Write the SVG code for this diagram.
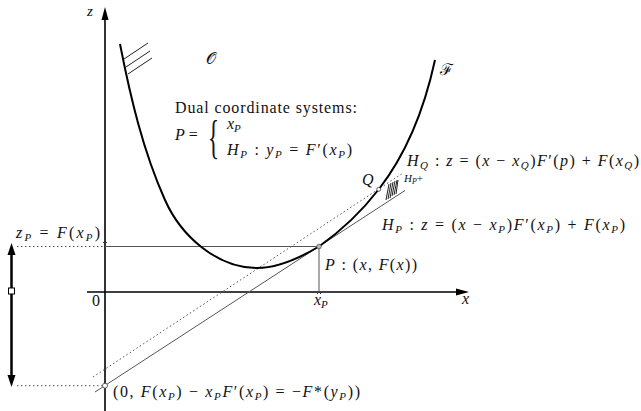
<svg xmlns="http://www.w3.org/2000/svg" width="641" height="411" viewBox="0 0 641 411">
<style>
.t{font-family:'Liberation Serif','Times New Roman',Times,'DejaVu Serif',serif;font-size:16px;fill:#111}
.i{font-style:italic}
.s{font-size:11px;font-style:italic}
.axis{stroke:#000;stroke-width:1.6;fill:none}
.curve{stroke:#000;stroke-width:2;fill:none}
.thin{stroke:#555;stroke-width:1;fill:none}
.dot{stroke:#555;stroke-width:1;fill:none;stroke-dasharray:1.5 2.5}
.hatch{stroke:#222;stroke-width:1;fill:none}
</style>
<rect width="641" height="411" fill="#fff"/>

<g id="axes">
  <line class="axis" x1="105" y1="411" x2="105" y2="18"/>
  <polygon points="105,7 101.5,20 108.5,20" fill="#000"/>
  <line class="axis" x1="87" y1="292" x2="457" y2="292"/>
  <polygon points="469,292 456,288.5 456,295.5" fill="#000"/>
  <text class="t i" x="87" y="16" style="font-size:15px">z</text>
  <text class="t i" x="462" y="304">x</text>
  <text class="t" x="92" y="306">0</text>
</g>

<g id="connectors">
  <line class="thin" x1="105" y1="246.5" x2="319" y2="246.5"/>
  <line class="thin" x1="319" y1="246.5" x2="319" y2="292"/>
  <line class="thin" x1="95" y1="392" x2="405" y2="190.5"/>
  <line class="dot" x1="93" y1="377" x2="403" y2="173"/>
  <line class="dot" x1="17" y1="246.5" x2="105" y2="246.5"/>
  <line class="dot" x1="17" y1="385.7" x2="105" y2="385.7"/>
  <path class="hatch" d="M124,59 L148,43 M126,67 L150,51 M128,74 L152,58"/>
  <path class="hatch" stroke-width="0.8" d="M386,200 L389,184 M388,199 L391,183 M390,198 L393,182 M392,196 L395,181 M394,195 L397,180 M396,194 L398,180"/>
  <path d="M105,244 l-2,-2 M105,244 l2,-2 M319,292 l-2,2 M319,292 l2,2" stroke="#333" stroke-width="1"/>
</g>

<g id="curve-F">
  <path class="curve" d="M120,44 C130.4,97 143,151 165,200 C181,236 217,268 257,268 C277,268 298,259 319,246.5 C341.4,230.7 362,211 379,189 C407.7,152 425,106 435,60"/>
  <text class="t" x="440" y="75">ℱ</text>
  <text class="t" x="206" y="64">𝒪</text>
</g>

<g id="points">
  <circle cx="319" cy="246.5" r="2.3" fill="#bbb" stroke="#555" stroke-width="0.8"/>
  <circle cx="378.7" cy="189.3" r="2" fill="#fff" stroke="#333" stroke-width="0.8"/>
  <circle cx="105" cy="385.7" r="2.5" fill="#fff" stroke="#333" stroke-width="0.8"/>
</g>

<g id="double-arrow">
  <line x1="11.5" y1="252" x2="11.5" y2="378" stroke="#000" stroke-width="2.5"/>
  <polygon points="11.5,243 7.5,255 15.5,255" fill="#000"/>
  <polygon points="11.5,387 7.5,375 15.5,375" fill="#000"/>
  <rect x="8.5" y="288" width="6" height="6" fill="#fff" stroke="#000" stroke-width="1"/>
</g>

<g id="dual-text">
  <text class="t" x="175" y="113" textLength="182">Dual coordinate systems:</text>
  <text class="t" x="175" y="140"><tspan class="i">P</tspan> =</text>
  <text class="t" transform="translate(208,153) scale(0.5,1)" style="font-size:46px">{</text>
  <text class="t" x="227" y="129"><tspan class="i">x</tspan><tspan class="s" dy="3">P</tspan></text>
  <text class="t" x="227" y="155" textLength="125"><tspan class="i">H</tspan><tspan class="s" dy="3">P</tspan><tspan dy="-3"> : </tspan><tspan class="i">y</tspan><tspan class="s" dy="3">P</tspan><tspan dy="-3"> = </tspan><tspan class="i">F</tspan>′(<tspan class="i">x</tspan><tspan class="s" dy="3">P</tspan><tspan dy="-3">)</tspan></text>
</g>

<g id="labels">
  <text class="t" x="407" y="166" textLength="232"><tspan class="i">H</tspan><tspan class="s" dy="3">Q</tspan><tspan dy="-3"> : </tspan><tspan class="i">z</tspan> = (<tspan class="i">x</tspan> − <tspan class="i">x</tspan><tspan class="s" dy="3">Q</tspan><tspan dy="-3">)</tspan><tspan class="i">F</tspan>′(<tspan class="i">p</tspan>) + <tspan class="i">F</tspan>(<tspan class="i">x</tspan><tspan class="s" dy="3">Q</tspan><tspan dy="-3">)</tspan></text>
  <text class="t i" x="362" y="185">Q</text>
  <text class="t" x="404" y="182" style="font-size:11px"><tspan class="i">H</tspan><tspan class="i" style="font-size:8px" dy="2">P</tspan><tspan dy="-2">+</tspan></text>
  <text class="t" x="382" y="230" textLength="243"><tspan class="i">H</tspan><tspan class="s" dy="3">P</tspan><tspan dy="-3"> : </tspan><tspan class="i">z</tspan> = (<tspan class="i">x</tspan> − <tspan class="i">x</tspan><tspan class="s" dy="3">P</tspan><tspan dy="-3">)</tspan><tspan class="i">F</tspan>′(<tspan class="i">x</tspan><tspan class="s" dy="3">P</tspan><tspan dy="-3">) + </tspan><tspan class="i">F</tspan>(<tspan class="i">x</tspan><tspan class="s" dy="3">P</tspan><tspan dy="-3">)</tspan></text>
  <text class="t" x="325" y="270" textLength="92"><tspan class="i">P</tspan> : (<tspan class="i">x</tspan>, <tspan class="i">F</tspan>(<tspan class="i">x</tspan>))</text>
  <text class="t" x="314" y="305"><tspan class="i">x</tspan><tspan class="s" dy="3">P</tspan></text>
  <text class="t" x="16" y="238" textLength="84"><tspan class="i">z</tspan><tspan class="s" dy="3">P</tspan><tspan dy="-3"> = </tspan><tspan class="i">F</tspan>(<tspan class="i">x</tspan><tspan class="s" dy="3">P</tspan><tspan dy="-3">)</tspan></text>
  <text class="t" x="113" y="397" textLength="247">(0, <tspan class="i">F</tspan>(<tspan class="i">x</tspan><tspan class="s" dy="3">P</tspan><tspan dy="-3">) − </tspan><tspan class="i">x</tspan><tspan class="s" dy="3">P</tspan><tspan class="i" dy="-3">F</tspan>′(<tspan class="i">x</tspan><tspan class="s" dy="3">P</tspan><tspan dy="-3">) = −</tspan><tspan class="i">F</tspan>*(<tspan class="i">y</tspan><tspan class="s" dy="3">P</tspan><tspan dy="-3">))</tspan></text>
</g>
</svg>
